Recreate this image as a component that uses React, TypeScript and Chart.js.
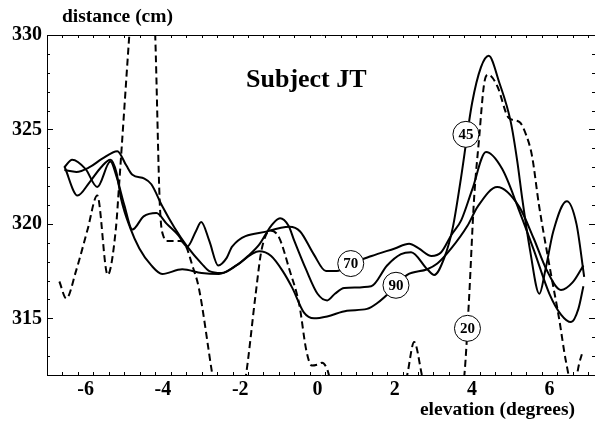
import React, { useEffect, useRef } from "react";
import { Chart, registerables } from "chart.js";

Chart.register(...registerables);

// ---- data (elevation in degrees, distance in cm) ----
const elev20 = [-6.68, -6.5, -6.25, -5.95, -5.7, -5.43, -5.22, -5.13, -4.87, -4.45, -4.2, -4.08, -3.98, -3.9, -3.55, -3.4, -3.24, -3.07, -2.72, -2.3, -1.85, -1.6, -1.45, -1.22, -1.0, -0.73, -0.47, -0.29, -0.15, 0.0, 0.12, 0.25, 0.35, 1.3, 2.1, 2.32, 2.5, 2.7, 2.9, 3.4, 3.8, 3.92, 4.05, 4.18, 4.31, 4.42, 4.65, 4.95, 5.22, 5.4, 5.55, 5.73, 6.0, 6.25, 6.43, 6.62, 6.77, 6.84];
const dist20 = [316.95, 316.05, 317.5, 319.7, 321.5, 317.3, 319.7, 322.2, 330, 342, 330, 321, 319.3, 319.1, 319.1, 318.8, 317.8, 316.6, 312, 307, 312, 316.3, 318.6, 319.65, 319.3, 317.6, 315.7, 313.3, 312.5, 312.55, 312.65, 312.3, 311.6, 308, 310.3, 312, 313.75, 312, 310, 308, 312, 316, 321.3, 324.5, 327.4, 327.9, 327.3, 325.6, 325.4, 324.7, 323.6, 321, 317.8, 315, 312.7, 311.2, 312.6, 313.1];

const elev45 = [-6.55, -6.24, -5.9, -5.57, -5.18, -4.95, -4.79, -4.48, -4.3, -4.02, -3.7, -3.37, -3.0, -2.8, -2.49, -2.1, -1.8, -1.51, -1.2, -0.97, -0.75, -0.6, -0.3, 0.0, 0.25, 0.45, 0.69, 1.39, 1.8, 2.16, 2.42, 2.84, 3.02, 3.28, 3.5, 3.71, 4.0, 4.23, 4.43, 4.7, 5.0, 5.17, 5.3, 5.5, 5.74, 5.9, 6.1, 6.45, 6.7, 6.9];
const dist45 = [322.85, 322.75, 323.0, 323.45, 323.85, 323.1, 322.6, 322.4, 322.1, 320.95, 319.8, 318.8, 317.9, 317.5, 317.4, 317.8, 318.3, 318.9, 319.9, 320.3, 319.9, 319.1, 317.6, 316.3, 315.95, 316.3, 316.6, 316.7, 317.8, 318.4, 318.5, 317.6, 317.3, 318.2, 319.8, 322.4, 326.4, 328.3, 328.9, 327.5, 325.4, 323.3, 321.3, 318.6, 316.3, 317.6, 319.6, 321.2, 320.0, 317.2];

const elev70 = [-6.55, -6.35, -6.0, -5.7, -5.36, -5.2, -5.0, -4.79, -4.5, -4.17, -3.9, -3.6, -3.37, -3.15, -3.01, -2.8, -2.57, -2.35, -2.21, -1.25, -0.73, -0.45, -0.1, 0.22, 0.5, 0.87, 1.4, 2.0, 2.37, 2.62, 2.95, 3.2, 3.46, 3.72, 4.0, 4.36, 4.78, 5.2, 5.6, 6.0, 6.3, 6.56, 6.75, 6.88];
const dist70 = [323.0, 323.4, 322.9, 321.95, 323.3, 322.5, 321.0, 319.7, 320.4, 320.58, 320.0, 319.4, 318.8, 319.6, 320.1, 319.1, 317.8, 318.2, 318.8, 319.63, 319.85, 319.6, 318.4, 317.5, 317.5, 317.9, 318.3, 318.7, 318.95, 318.7, 318.3, 318.5, 319.4, 320.2, 321.8, 323.8, 322.9, 320.8, 318.6, 316.3, 315.2, 314.8, 315.5, 316.7];

const elev90 = [-6.55, -6.21, -5.9, -5.6, -5.36, -5.2, -5.08, -4.85, -4.61, -4.3, -4.02, -3.5, -3.0, -2.55, -2.1, -1.51, -1.2, -0.9, -0.65, -0.35, -0.09, 0.25, 0.76, 1.28, 1.54, 2.03, 2.32, 2.84, 3.1, 3.46, 3.88, 4.14, 4.65, 5.22, 5.6, 5.92, 6.3, 6.6, 6.88];
const dist90 = [323.05, 321.5, 322.2, 323.0, 323.4, 322.7, 321.3, 319.8, 318.7, 317.8, 317.35, 317.6, 317.4, 317.35, 317.8, 318.55, 318.3, 317.5, 316.6, 315.3, 315.0, 315.1, 315.4, 315.5, 315.8, 316.7, 317.3, 317.6, 317.9, 318.7, 319.9, 320.9, 321.95, 320.9, 319.2, 317.6, 316.5, 316.9, 317.8];

// curve labels: [text, elevation, distance]
const curveLabels: [string, number, number][] = [
  ["70", 0.86, 317.9],
  ["90", 2.03, 316.75],
  ["45", 3.84, 324.74],
  ["20", 3.88, 314.47],
];

const xMajorTicks = [-6, -4, -2, 0, 2, 4, 6];
const yMajorTicks = [315, 320, 325, 330];
const titleText = "Subject JT";
const xAxisTitle = "elevation (degrees)";
const yAxisTitle = "distance (cm)";

const X_MIN = -7.0;
const X_MAX = 7.18;
const Y_MIN = 312;
const Y_MAX = 330;

const SERIF = "'Liberation Serif', 'Times New Roman', serif";

function pts(xs: number[], ys: number[]) {
  return xs.map((x, i) => ({ x, y: ys[i] }));
}

const framePlugin = {
  id: "framePlugin",
  afterDraw(chart: any) {
    const { ctx, chartArea: a, scales } = chart;
    const xs = scales.x;
    const ys = scales.y;
    ctx.save();
    ctx.strokeStyle = "#000";
    ctx.lineWidth = 1;
    // frame
    ctx.beginPath();
    ctx.moveTo(a.left + 0.5, a.top + 0.5);
    ctx.lineTo(a.right + 0.5, a.top + 0.5);
    ctx.moveTo(a.left + 0.5, a.top + 0.5);
    ctx.lineTo(a.left + 0.5, a.bottom + 0.5);
    ctx.lineTo(a.right + 0.5, a.bottom + 0.5);
    ctx.stroke();
    // x ticks (inward, bottom and top)
    ctx.beginPath();
    for (let v = -7; v <= 7.2 + 1e-9; v += 0.4) {
      const vv = Math.round(v * 10) / 10;
      const px = Math.round(xs.getPixelForValue(vv)) + 0.5;
      const major = Math.abs(vv / 2 - Math.round(vv / 2)) < 1e-6;
      const len = major ? 6 : 3;
      ctx.moveTo(px, a.bottom);
      ctx.lineTo(px, a.bottom - len);
      ctx.moveTo(px, a.top);
      ctx.lineTo(px, a.top + len);
    }
    // y ticks (inward, left and right)
    for (let v = Y_MIN; v <= Y_MAX; v += 1) {
      const py = Math.round(ys.getPixelForValue(v)) + 0.5;
      const major = v % 5 === 0;
      const len = major ? 6 : 3;
      ctx.moveTo(a.left, py);
      ctx.lineTo(a.left + len, py);
      ctx.moveTo(a.right, py);
      ctx.lineTo(a.right - len, py);
    }
    ctx.stroke();

    // curve labels
    ctx.lineWidth = 1;
    ctx.font = `bold 15px ${SERIF}`;
    ctx.textAlign = "center";
    ctx.textBaseline = "middle";
    for (const [t, ex, dy] of curveLabels) {
      const cx = xs.getPixelForValue(ex);
      const cy = ys.getPixelForValue(dy);
      ctx.beginPath();
      ctx.arc(cx, cy, 13, 0, Math.PI * 2);
      ctx.fillStyle = "#fff";
      ctx.fill();
      ctx.stroke();
      ctx.fillStyle = "#000";
      ctx.fillText(t, cx, cy + 1);
    }

    // title
    ctx.font = `bold 26px ${SERIF}`;
    ctx.textAlign = "center";
    ctx.textBaseline = "middle";
    ctx.fillText(titleText, xs.getPixelForValue(-0.29), ys.getPixelForValue(327.6));

    // axis titles
    ctx.font = `bold 19.5px ${SERIF}`;
    ctx.textAlign = "left";
    ctx.textBaseline = "alphabetic";
    ctx.fillText(yAxisTitle, 62, 22);
    ctx.textAlign = "right";
    ctx.fillText(xAxisTitle, 575, 415);
    ctx.restore();
  },
};

export default function App() {
  const ref = useRef<HTMLCanvasElement | null>(null);
  useEffect(() => {
    if (!ref.current) return;
    const solid = (label: string, xs: number[], ys: number[]) => ({
      label,
      data: pts(xs, ys),
      borderColor: "#000",
      borderWidth: 2,
      pointRadius: 0,
      fill: false,
      showLine: true,
      cubicInterpolationMode: "monotone" as const,
    });
    const chart = new Chart(ref.current, {
      type: "scatter",
      data: {
        datasets: [
          { ...solid("20", elev20, dist20), borderDash: [7, 4] },
          solid("45", elev45, dist45),
          solid("70", elev70, dist70),
          solid("90", elev90, dist90),
        ],
      },
      options: {
        responsive: false,
        animation: false,
        devicePixelRatio: 1,
        layout: { padding: { left: 0, right: 0, top: 35, bottom: 0 } },
        plugins: { legend: { display: false }, tooltip: { enabled: false }, title: { display: false } },
        scales: {
          x: {
            type: "linear",
            min: X_MIN,
            max: X_MAX,
            grid: { display: false, drawTicks: false },
            border: { display: false },
            afterFit: (s: any) => { s.height = 46; },
            afterBuildTicks: (s: any) => { s.ticks = xMajorTicks.map((v) => ({ value: v })); },
            ticks: {
              padding: 3,
              autoSkip: false,
              maxRotation: 0,
              color: "#000",
              font: { family: SERIF, weight: "bold", size: 20 },
              callback: (v: any) => String(v),
            },
          },
          y: {
            type: "linear",
            min: Y_MIN,
            max: Y_MAX,
            grid: { display: false, drawTicks: false },
            border: { display: false },
            afterFit: (s: any) => { s.width = 47; },
            afterBuildTicks: (s: any) => { s.ticks = yMajorTicks.map((v) => ({ value: v })); },
            ticks: {
              padding: 5,
              autoSkip: false,
              color: "#000",
              font: { family: SERIF, weight: "bold", size: 20 },
              callback: (v: any) => String(v),
            },
          },
        },
      },
      plugins: [framePlugin],
    });
    return () => chart.destroy();
  }, []);
  return (
    <div style={{ position: "absolute", left: 0, top: 0, width: 595, height: 421, background: "#fff" }}>
      <canvas ref={ref} width={595} height={421} style={{ display: "block" }} />
    </div>
  );
}
